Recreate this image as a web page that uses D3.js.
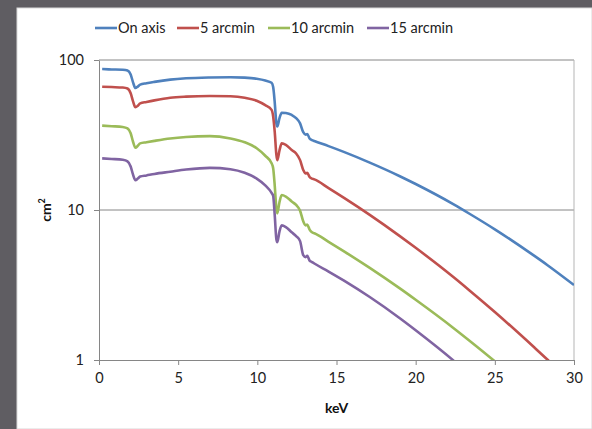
<!DOCTYPE html>
<html>
<head>
<meta charset="utf-8">
<script src="https://cdn.jsdelivr.net/npm/d3@7"></script>
<style>
  html, body { margin: 0; padding: 0; background: #5f5d62; }
  svg { display: block; }
</style>
</head>
<body>
<svg id="chart"></svg>
<script>
// energies (keV) shared by all series
const energy = [0.2, 0.8, 1.5, 1.8, 2.0, 2.15, 2.3, 2.45, 2.6, 3.0, 3.5, 4.5, 5.5, 7, 8.3, 9.2, 9.96, 10.5, 10.9, 11.0,
    11.1, 11.2, 11.26, 11.4, 11.54, 11.8, 12.17, 12.45, 12.7, 12.9, 13.05, 13.15, 13.3, 13.45, 13.6, 14.5, 15.5, 17.1,
    19, 20, 22.4, 23.4, 25, 27.5, 28.35, 30];

const onAxis = [87, 86.5, 86, 85, 80, 71, 65, 66.5, 68.5, 70, 71.5, 74, 75.5, 76.5, 76.8, 76.3, 75, 73, 70.5, 66,
    52, 38, 36, 41, 44.5, 44.3, 43, 41, 37.8, 33, 31.8, 32.1, 30, 29.2, 28.8, 26.65, 24.3, 20.7,
    16.8, 14.9, 10.9, 9.44, 7.43, 4.94, 4.27, 3.16];

const arcmin5 = [66.4, 66, 65.5, 64.5, 60, 53, 48.4, 49.5, 51.4, 52.5, 53.8, 56, 57, 57.6, 57.3, 56, 53.5, 50, 46.5, 42,
    33, 23.5, 21.5, 25, 27.8, 27.2, 25.1, 23.8, 21.5, 18.5, 17.5, 17.7, 16.6, 16.2, 16.0, 14.0, 12.0, 9.28,
    6.7, 5.6, 3.56, 2.91, 2.09, 1.21, 1.0, 0.68];

const arcmin10 = [36.5, 36.2, 35.8, 35, 32.5, 28.5, 26.0, 26.8, 27.8, 28.3, 28.9, 30.0, 30.7, 31.1, 30.0, 28.3, 25.8, 23, 20.5, 19,
    14.5, 10.3, 9.5, 11.3, 12.6, 12.3, 11.4, 10.8, 9.9, 8.4, 7.9, 8.0, 7.4, 7.1, 7.0, 6.14, 5.28, 4.11,
    3.0, 2.52, 1.63, 1.345, 0.98, 0.58, 0.48, 0.335];

const arcmin15 = [22.1, 21.9, 21.6, 21.1, 19.5, 17.2, 15.8, 16.2, 16.7, 17.0, 17.4, 18.0, 18.6, 19.1, 18.7, 17.7, 16.2, 14.6, 13.0, 12.4,
    9.2, 6.4, 6.1, 7.2, 7.9, 7.7, 7.1, 6.7, 6.2, 5.0, 4.85, 4.95, 4.6, 4.5, 4.4, 3.89, 3.37, 2.63,
    1.9, 1.58, 0.99, 0.8, 0.56, 0.31, 0.25, 0.16];

const seriesNames = ["On axis", "5 arcmin", "10 arcmin", "15 arcmin"];
const seriesValues = [onAxis, arcmin5, arcmin10, arcmin15];
const colors = ["#4f81bd", "#c0504d", "#9bbb59", "#8064a2"];

const xTicks = [0, 5, 10, 15, 20, 25, 30];
const yTicks = [1, 10, 100];

const width = 592;
const height = 429;
const marginTop = 60;
const marginRight = 18;
const marginBottom = 69;
const marginLeft = 99;

const svg = d3.select("#chart")
    .attr("width", width)
    .attr("height", height)
    .style("font-family", "Lato, 'Open Sans', sans-serif");

// white panel
svg.append("rect")
    .attr("x", 17).attr("y", 8)
    .attr("width", width - 17).attr("height", height - 8)
    .attr("fill", "#ffffff")
    .attr("stroke", "#d9d9d9");

const x = d3.scaleLinear()
    .domain([0, 30])
    .range([marginLeft, width - marginRight]);

const y = d3.scaleLog()
    .domain([1, 100])
    .range([height - marginBottom, marginTop]);

svg.append("defs").append("clipPath").attr("id", "plot-clip")
    .append("rect")
    .attr("x", x(0)).attr("y", y(100))
    .attr("width", x(30) - x(0)).attr("height", y(1) - y(100));

// gridlines
svg.append("g")
    .selectAll("line")
    .data(yTicks.slice(1))
    .join("line")
    .attr("x1", x(0)).attr("x2", x(30))
    .attr("y1", d => y(d)).attr("y2", d => y(d))
    .attr("stroke", "#868686");

// right border of plot area
svg.append("line")
    .attr("x1", x(30)).attr("x2", x(30))
    .attr("y1", y(100)).attr("y2", y(1))
    .attr("stroke", "#b5b5b5");

const gx = svg.append("g")
    .attr("transform", `translate(0,${y(1)})`)
    .call(d3.axisBottom(x).tickValues(xTicks).tickSize(5).tickPadding(8).tickSizeOuter(0));

const gy = svg.append("g")
    .attr("transform", `translate(${x(0)},0)`)
    .call(d3.axisLeft(y).tickValues(yTicks).tickFormat(d3.format("d")).tickSize(5).tickPadding(10).tickSizeOuter(0));

[gx, gy].forEach(g => {
    g.select(".domain").attr("stroke", "#868686");
    g.selectAll(".tick line").attr("stroke", "#868686");
    g.selectAll(".tick text")
        .attr("fill", "#222")
        .style("font-size", "14.5px")
        .style("font-family", "Lato, 'Open Sans', sans-serif");
});

const line = d3.line()
    .x((d, i) => x(energy[i]))
    .y(d => y(d))
    .curve(d3.curveMonotoneX);

svg.append("g")
    .attr("clip-path", "url(#plot-clip)")
    .selectAll("path")
    .data(seriesValues)
    .join("path")
    .attr("fill", "none")
    .attr("stroke", (d, i) => colors[i])
    .attr("stroke-width", 2.6)
    .attr("stroke-linejoin", "round")
    .attr("d", line);

// axis titles
svg.append("text")
    .attr("x", (x(0) + x(30)) / 2)
    .attr("y", 413)
    .attr("text-anchor", "middle")
    .style("font-size", "14px")
    .style("font-weight", "bold")
    .attr("fill", "#111")
    .text("keV");

const yt = svg.append("text")
    .attr("transform", `translate(51,${(y(1) + y(100)) / 2}) rotate(-90)`)
    .attr("text-anchor", "middle")
    .style("font-size", "14px")
    .style("font-weight", "bold")
    .attr("fill", "#111");
yt.append("tspan").text("cm");
yt.append("tspan").attr("dy", -6).style("font-size", "9px").text("2");

// legend
const legendX = [95, 177, 268, 367];
const legend = svg.append("g")
    .selectAll("g")
    .data(seriesNames)
    .join("g")
    .attr("transform", (d, i) => `translate(${legendX[i]},28)`);

legend.append("line")
    .attr("x1", 0).attr("x2", 22)
    .attr("stroke", (d, i) => colors[i])
    .attr("stroke-width", 2.6);

legend.append("text")
    .attr("x", 23)
    .attr("dy", "0.35em")
    .style("font-size", "14.5px")
    .attr("fill", "#222")
    .text(d => d);
</script>
</body>
</html>
